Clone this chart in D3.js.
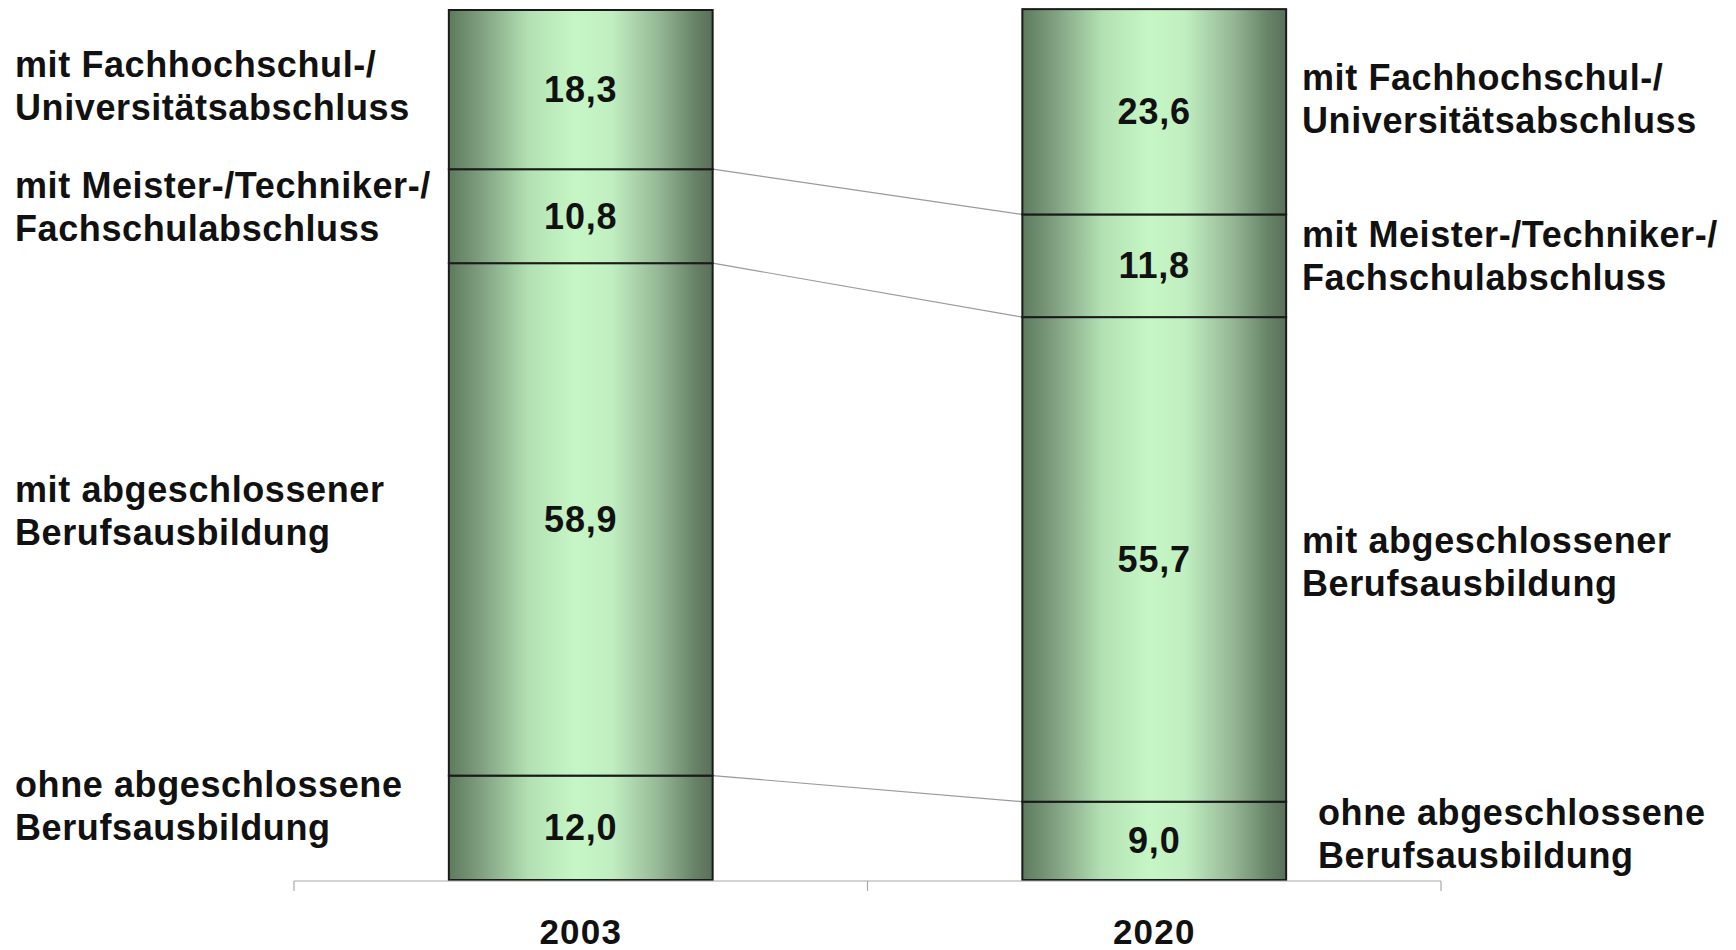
<!DOCTYPE html>
<html>
<head>
<meta charset="utf-8">
<script src="https://cdn.jsdelivr.net/npm/d3@7"></script>
<style>
  html, body { margin: 0; padding: 0; background: #fff; }
  svg { display: block; font-family: Arial, "Liberation Sans", sans-serif; }
</style>
</head>
<body>
<svg id="chart" width="1736" height="950"></svg>
<script>
// ---- data ----
const years = ["2003", "2020"];
// stack order bottom -> top
const categories = [
  "ohne abgeschlossene Berufsausbildung",
  "mit abgeschlossener Berufsausbildung",
  "mit Meister-/Techniker-/Fachschulabschluss",
  "mit Fachhochschul-/Universitätsabschluss"
];
const values2003 = [12.0, 58.9, 10.8, 18.3];
const values2020 = [9.0, 55.7, 11.8, 23.6];
const labelLines = [
  ["ohne abgeschlossene", "Berufsausbildung"],
  ["mit abgeschlossener", "Berufsausbildung"],
  ["mit Meister-/Techniker-/", "Fachschulabschluss"],
  ["mit Fachhochschul-/", "Universitätsabschluss"]
];

// ---- layout (not data) ----
const leftLabelX = 15, rightLabelX = 1302;
const leftLabelBase = [797, 502, 198, 77];     // first-line baselines
const rightLabelBase = [825, 553, 247, 90];
const rightLabelXs = [1318, rightLabelX, rightLabelX, rightLabelX];
const lineGap = 43;

const svg = d3.select("#chart");
const series = [values2003, values2020];

const y = d3.scaleLinear().domain([0, 100]).range([880, 10]);
const x = d3.scaleBand().domain(years).range([294, 1441])
  .paddingInner(0.54).paddingOuter(0.27);

// gradient
const defs = svg.append("defs");
const grad = defs.append("linearGradient").attr("id", "barGrad")
  .attr("x1", "0%").attr("x2", "100%").attr("y1", "0%").attr("y2", "0%");
[["0%", "#5d7a5d"], ["12%", "#7f9f7f"], ["30%", "#b2e0b2"], ["48%", "#c6f6c6"],
 ["62%", "#c0eec0"], ["80%", "#94b694"], ["93%", "#688468"], ["100%", "#596f59"]]
  .forEach(([o, c]) => grad.append("stop").attr("offset", o).attr("stop-color", c));

// stacks
const stacked = series.map(vals => {
  let acc = 0;
  return vals.map(v => { const s = { y0: acc, y1: acc + v, v }; acc += v; return s; });
});

// connector lines
for (let i = 1; i < categories.length; i++) {
  svg.append("line")
    .attr("x1", x(years[0]) + x.bandwidth()).attr("y1", y(stacked[0][i].y0))
    .attr("x2", x(years[1])).attr("y2", y(stacked[1][i].y0))
    .attr("stroke", "#9a9a9a").attr("stroke-width", 1.2);
}

// bars
years.forEach((yr, j) => {
  const g = svg.append("g");
  g.selectAll("rect").data(stacked[j]).join("rect")
    .attr("x", x(yr)).attr("width", x.bandwidth())
    .attr("y", d => y(d.y1)).attr("height", d => y(d.y0) - y(d.y1))
    .attr("fill", "url(#barGrad)")
    .attr("stroke", "#1a1a1a").attr("stroke-width", 2);
  g.selectAll("text").data(stacked[j]).join("text")
    .attr("x", x(yr) + x.bandwidth() / 2)
    .attr("y", d => (y(d.y0) + y(d.y1)) / 2)
    .attr("dy", "0.35em")
    .attr("text-anchor", "middle")
    .attr("font-size", 36).attr("font-weight", "bold").attr("fill", "#111")
    .attr("letter-spacing", 0.8)
    .text(d => d3.format(".1f")(d.v).replace(".", ","));
});

// axis
const axisY = 881;
svg.append("line").attr("x1", x.range()[0]).attr("x2", x.range()[1])
  .attr("y1", axisY).attr("y2", axisY).attr("stroke", "#aaa").attr("stroke-width", 1.2);
const tickXs = [x.range()[0], (x(years[0]) + x.bandwidth() + x(years[1])) / 2, x.range()[1]];
svg.selectAll(".tick").data(tickXs).join("line")
  .attr("x1", d => d).attr("x2", d => d)
  .attr("y1", axisY).attr("y2", axisY + 10)
  .attr("stroke", "#aaa").attr("stroke-width", 1.2);
svg.selectAll(".yr").data(years).join("text")
  .attr("x", d => x(d) + x.bandwidth() / 2).attr("y", 944)
  .attr("text-anchor", "middle").attr("font-size", 35).attr("font-weight", "bold")
  .attr("letter-spacing", 1.2)
  .attr("fill", "#111").text(d => d);

// category labels
function drawLabels(xs, bases) {
  labelLines.forEach((lines, i) => {
    const t = svg.append("text").attr("font-size", 36).attr("font-weight", "bold")
      .attr("letter-spacing", 0.6).attr("fill", "#111");
    lines.forEach((ln, k) => {
      t.append("tspan").attr("x", xs[i]).attr("y", bases[i] + k * lineGap).text(ln);
    });
  });
}
drawLabels(categories.map(() => leftLabelX), leftLabelBase);
drawLabels(rightLabelXs, rightLabelBase);
</script>
</body>
</html>
